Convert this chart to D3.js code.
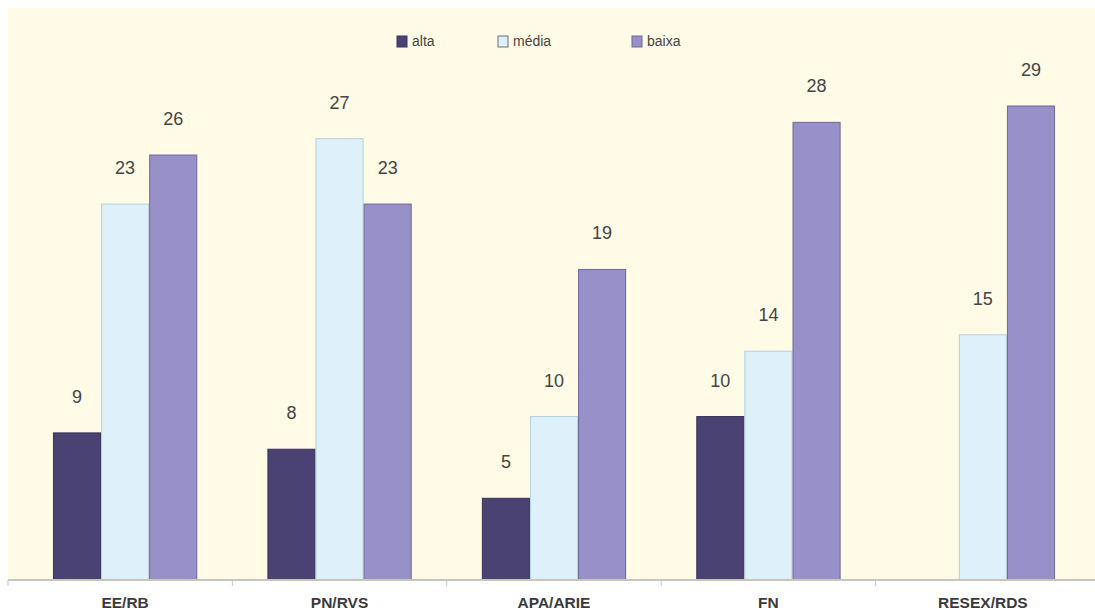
<!DOCTYPE html>
<html><head><meta charset="utf-8">
<script src="https://cdn.jsdelivr.net/npm/d3@7"></script>
<style>body{margin:0;background:#fff;}svg{display:block;}</style>
</head><body>
<svg id="c" width="1095" height="612"></svg>
<script>
const categories = ["EE/RB","PN/RVS","APA/ARIE","FN","RESEX/RDS"];
const seriesNames = ["alta","média","baixa"];
const alta  = [9, 8, 5, 10, null];
const media = [23, 27, 10, 14, 15];
const baixa = [26, 23, 19, 28, 29];

const colors = {"alta":"#4a4272","média":"#def0f9","baixa":"#9890c9"};
const strokes = {"alta":"#3a335c","média":"#b4d0de","baixa":"#6f6899"};

const svg = d3.select("#c");
const W = 1095, H = 612;
const base = 580;

svg.append("rect").attr("x",8).attr("y",8).attr("width",W-8).attr("height",base-8).attr("fill","#fffbe6");

const x0 = d3.scaleBand().domain(categories).range([18,1090]).paddingInner(0.327).paddingOuter(0.163);
const x1 = d3.scaleBand().domain(seriesNames).range([0,x0.bandwidth()]);
const y = d3.scaleLinear().domain([0,29]).range([base,106]);

const seriesData = {"alta":alta,"média":media,"baixa":baixa};
const rows = [];
categories.forEach((c,i)=>{
  seriesNames.forEach(s=>{
    const v = seriesData[s][i];
    if (v!=null) rows.push({c, s, v});
  });
});

const g = svg.append("g");
g.selectAll("rect.bar").data(rows).join("rect").attr("class","bar")
  .attr("x",d=>x0(d.c)+x1(d.s)+0.5)
  .attr("width",x1.bandwidth()-1)
  .attr("y",d=>y(d.v))
  .attr("height",d=>base-y(d.v))
  .attr("fill",d=>colors[d.s])
  .attr("stroke",d=>strokes[d.s]).attr("stroke-width",1);

g.selectAll("text.val").data(rows).join("text").attr("class","val")
  .attr("x",d=>x0(d.c)+x1(d.s)+x1.bandwidth()/2)
  .attr("y",d=>y(d.v)-30)
  .attr("text-anchor","middle")
  .attr("font-family","Liberation Sans, Arial, sans-serif")
  .attr("font-size",18).attr("fill","#444")
  .text(d=>d.v);

// axis
const axis = d3.axisBottom(x0).tickSize(0).tickPadding(14);
const ax = svg.append("g").attr("transform",`translate(0,${base})`).call(axis);
ax.select(".domain").attr("stroke","#c8c6bc").attr("stroke-width",2).attr("d",`M8,0H${W}`);
ax.selectAll("text").attr("font-family","Liberation Sans, Arial, sans-serif")
  .attr("font-size",15.5).attr("font-weight","bold").attr("fill","#3a3a3a").attr("dy","0.9em");
// category boundary ticks
const bounds = categories.slice(1).map(c=>x0(c)-x0.step()*x0.paddingInner()/2);
svg.append("g").selectAll("line").data([8].concat(bounds)).join("line")
  .attr("x1",d=>d).attr("x2",d=>d).attr("y1",base).attr("y2",base+6)
  .attr("stroke","#c8c6bc").attr("stroke-width",1);

// legend
const legX = [397, 498, 632];
const lg = svg.append("g");
seriesNames.forEach((s,i)=>{
  lg.append("rect").attr("x",legX[i]).attr("y",36).attr("width",10).attr("height",11)
    .attr("fill",colors[s]).attr("stroke",s==="média"?"#6a7078":strokes[s]).attr("stroke-width",1);
  lg.append("text").attr("x",legX[i]+15).attr("y",46)
    .attr("font-family","Liberation Sans, Arial, sans-serif").attr("font-size",14).attr("fill","#444")
    .text(s);
});
</script>
</body></html>
